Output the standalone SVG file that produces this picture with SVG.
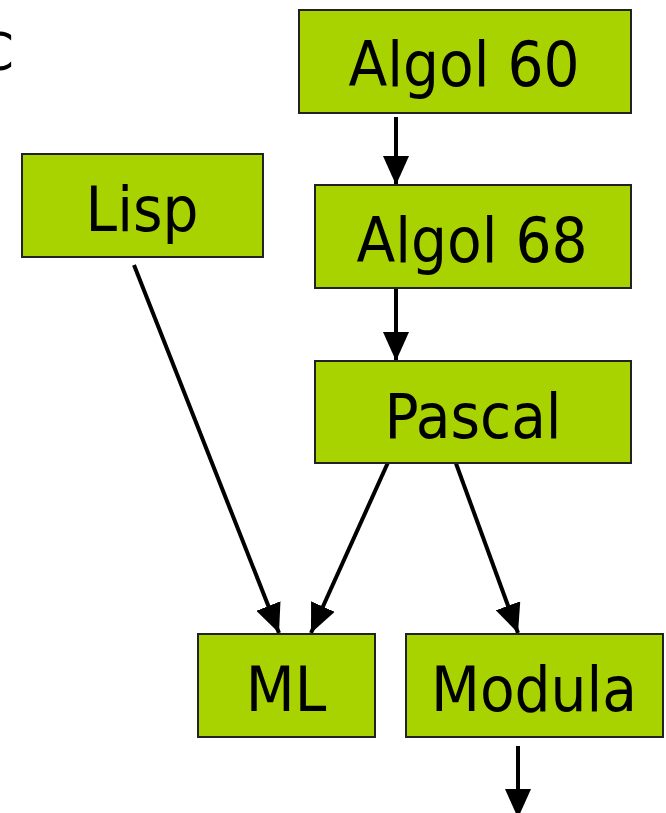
<svg xmlns="http://www.w3.org/2000/svg" width="666" height="813" viewBox="0 0 666 813">
  <style>
    .box { fill: #A9D300; stroke: #222; stroke-width: 2; }
    .lbl { font-family: "DejaVu Sans", "Liberation Sans", sans-serif; font-stretch: condensed; font-size: 63px; fill: #000; text-anchor: middle; }
    .edge { stroke: #000; stroke-width: 4; fill: none; marker-end: url(#head); }
  </style>
  <defs>
    <marker id="head" markerUnits="userSpaceOnUse" markerWidth="29" markerHeight="26" refX="29" refY="13" orient="auto">
      <path d="M0,0 L29,13 L0,26 z" fill="#000"/>
    </marker>
  </defs>

  <!-- partially visible label at the left edge -->
  <text x="-19" y="70" font-family="DejaVu Sans, sans-serif" font-size="52" font-stretch="condensed">C</text>

  <g id="edges">
    <line class="edge" x1="396" y1="117" x2="396" y2="185"/>
    <line class="edge" x1="396" y1="289" x2="396" y2="361"/>
    <line class="edge" x1="134" y1="265" x2="279" y2="633"/>
    <line class="edge" x1="390" y1="458" x2="311" y2="633"/>
    <line class="edge" x1="454" y1="458" x2="518" y2="633"/>
    <line class="edge" x1="518" y1="746" x2="518" y2="818"/>
  </g>

  <g id="algol60">
    <rect class="box" x="299" y="10" width="332" height="103"/>
    <text class="lbl" x="464" y="86">Algol 60</text>
  </g>
  <g id="lisp">
    <rect class="box" x="22" y="154" width="241" height="103"/>
    <text class="lbl" x="142" y="231">Lisp</text>
  </g>
  <g id="algol68">
    <rect class="box" x="315" y="185" width="316" height="103"/>
    <text class="lbl" x="472" y="262">Algol 68</text>
  </g>
  <g id="pascal">
    <rect class="box" x="315" y="361" width="316" height="102"/>
    <text class="lbl" x="473" y="438">Pascal</text>
  </g>
  <g id="ml">
    <rect class="box" x="198" y="634" width="177" height="103"/>
    <text class="lbl" x="286" y="711">ML</text>
  </g>
  <g id="modula">
    <rect class="box" x="406" y="634" width="257" height="103"/>
    <text class="lbl" x="534" y="711">Modula</text>
  </g>
</svg>
